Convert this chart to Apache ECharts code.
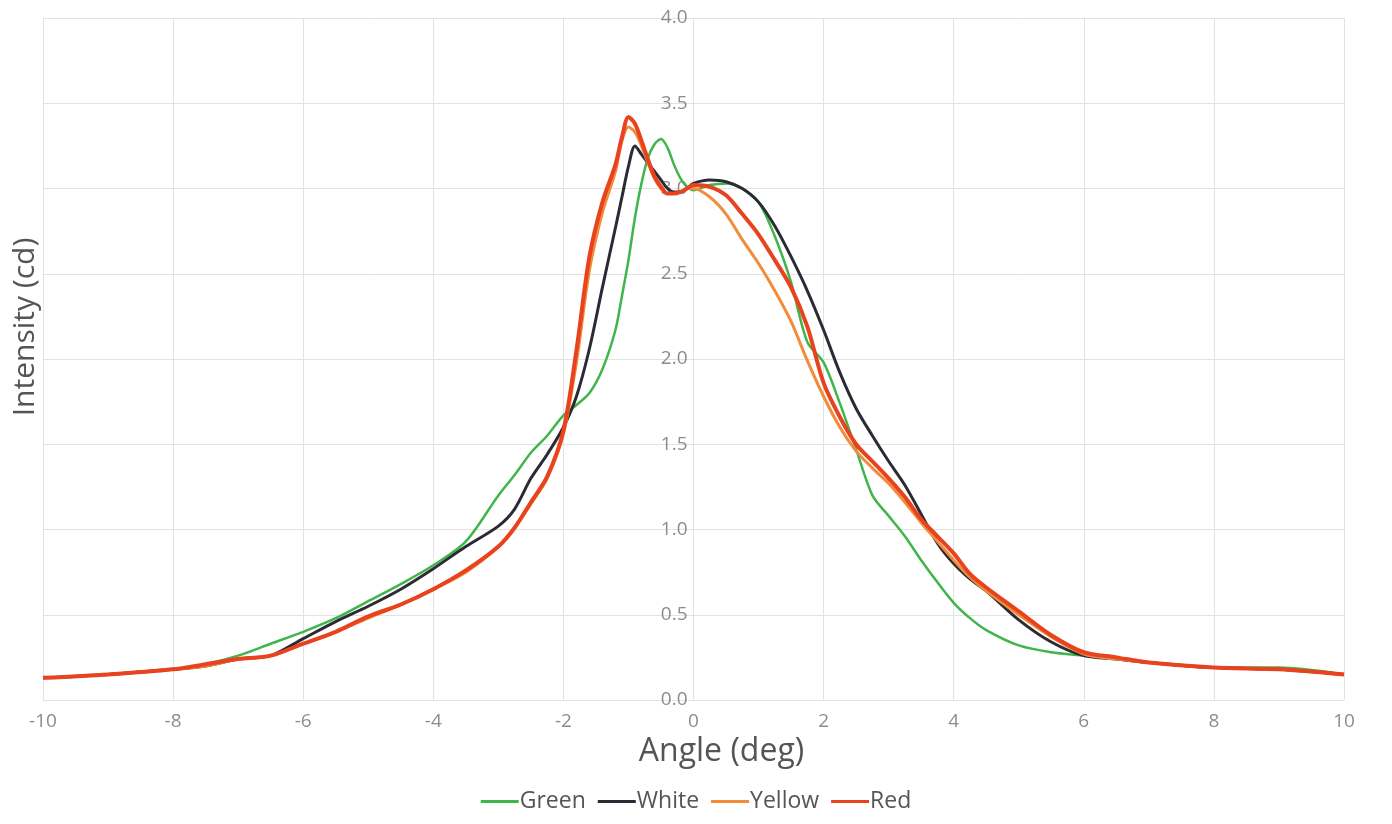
<!DOCTYPE html>
<html>
<head>
<meta charset="utf-8">
<script src="https://cdn.jsdelivr.net/npm/echarts@6/dist/echarts.min.js"></script>
<style>
html, body { margin: 0; padding: 0; background: #fff; }
#chart { width: 1392px; height: 824px; }
</style>
</head>
<body>
<div id="chart"></div>
<script type="text/javascript">
// angle (deg) sample points
var angles = [-10,-9,-8,-7.5,-7,-6.5,-6,-5.5,-5,-4.5,-4,-3.5,-3,-2.75,-2.5,-2.25,-2,-1.8,-1.6,-1.4,-1.2,-1.1,-1,-0.9,-0.8,-0.7,-0.6,-0.5,-0.4,-0.3,-0.2,-0.1,0,0.25,0.5,0.75,1,1.25,1.5,1.75,2,2.25,2.5,2.75,3,3.25,3.5,3.75,4,4.25,4.5,5,5.5,6,6.5,7,8,9,10];

// intensity (cd)
var green  = [0.13,0.15,0.18,0.21,0.26,0.33,0.40,0.48,0.58,0.68,0.79,0.93,1.20,1.32,1.45,1.55,1.67,1.73,1.80,1.94,2.17,2.37,2.58,2.83,3.03,3.18,3.26,3.29,3.24,3.14,3.06,3.01,2.99,3.02,3.03,3.00,2.92,2.72,2.45,2.10,1.98,1.74,1.47,1.20,1.08,0.96,0.82,0.69,0.57,0.48,0.41,0.32,0.28,0.26,0.24,0.22,0.19,0.19,0.15];
var white  = [0.13,0.15,0.18,0.20,0.24,0.26,0.36,0.46,0.55,0.65,0.77,0.90,1.02,1.12,1.30,1.44,1.60,1.78,2.06,2.42,2.77,2.95,3.13,3.25,3.20,3.15,3.10,3.05,3.00,2.98,2.98,3.00,3.03,3.05,3.04,3.00,2.92,2.78,2.60,2.40,2.17,1.92,1.71,1.55,1.40,1.26,1.09,0.92,0.80,0.71,0.64,0.47,0.34,0.26,0.24,0.22,0.19,0.18,0.15];
var yellow = [0.13,0.15,0.18,0.20,0.24,0.26,0.33,0.40,0.48,0.56,0.65,0.75,0.90,1.01,1.15,1.30,1.56,1.98,2.52,2.86,3.10,3.28,3.36,3.33,3.25,3.15,3.06,3.00,2.97,2.97,2.98,3.00,3.00,2.95,2.85,2.70,2.56,2.40,2.22,1.99,1.78,1.60,1.46,1.36,1.27,1.16,1.04,0.93,0.82,0.72,0.64,0.50,0.37,0.27,0.24,0.22,0.19,0.18,0.15];
var red    = [0.13,0.15,0.18,0.21,0.24,0.26,0.33,0.40,0.49,0.56,0.65,0.76,0.90,1.01,1.16,1.31,1.58,2.05,2.60,2.92,3.14,3.30,3.42,3.38,3.28,3.17,3.07,3.01,2.97,2.97,2.98,3.00,3.02,3.01,2.96,2.85,2.73,2.58,2.42,2.19,1.86,1.66,1.50,1.40,1.30,1.19,1.06,0.96,0.86,0.74,0.66,0.52,0.38,0.28,0.25,0.22,0.19,0.18,0.15];

var names = ['Green', 'White', 'Yellow', 'Red'];
var colors = ['#3fb54b', '#2b2b35', '#f08c3a', '#e8421f'];
var widths = [2.5, 3, 3, 4];

function pairs(ys) {
	var out = [];
	for (var i = 0; i < angles.length; i++) out.push([angles[i], ys[i]]);
	return out;
}

var myChart = echarts.init(document.getElementById('chart'));
var series_data = [green, white, yellow, red].map(function (ys, i) {
	return {
		name: names[i],
		type: 'line',
		data: pairs(ys),
		smooth: 0.3,
		symbol: 'none',
		color: colors[i],
		lineStyle: { color: colors[i], width: widths[i] }
	};
});

var option = {
	animation: false,
	textStyle: { fontFamily: 'Open Sans' },
	grid: { left: 43, right: 48, top: 18, bottom: 124 },
	legend: {
		data: names,
		bottom: 6,
		left: 'center',
		icon: 'rect',
		itemWidth: 38,
		itemHeight: 3,
		itemGap: 12,
		textStyle: { fontSize: 23, color: '#555', padding: [0, 0, 0, -4] }
	},
	xAxis: {
		type: 'value',
		min: -10, max: 10, interval: 2,
		name: 'Angle (deg)',
		nameLocation: 'middle',
		nameGap: 30,
		nameTextStyle: { fontSize: 32, color: '#555', padding: [0, 0, 0, 56] },
		axisLine: { show: false },
		axisTick: { show: false },
		axisLabel: { fontSize: 19, color: '#8c8c8c', margin: 12 },
		splitLine: { show: true, lineStyle: { color: '#e2e2e2', width: 1 } }
	},
	yAxis: {
		type: 'value',
		min: 0, max: 4, interval: 0.5,
		position: 'left',
		offset: -650.5,
		axisLine: { show: false, onZero: false },
		axisTick: { show: false },
		axisLabel: {
			fontSize: 19, color: '#8c8c8c', margin: 6,
			formatter: function (v) { return v.toFixed(1); }
		},
		splitLine: { show: true, lineStyle: { color: '#e2e2e2', width: 1 } }
	},
	graphic: [{
		type: 'text',
		x: 25, y: 327,
		rotation: Math.PI / 2,
		style: {
			text: 'Intensity (cd)',
			fontSize: 30,
			fontFamily: 'Open Sans',
			fill: '#555',
			align: 'center',
			verticalAlign: 'middle'
		}
	}],
	series: series_data
};
myChart.setOption(option);
</script>
</body>
</html>
